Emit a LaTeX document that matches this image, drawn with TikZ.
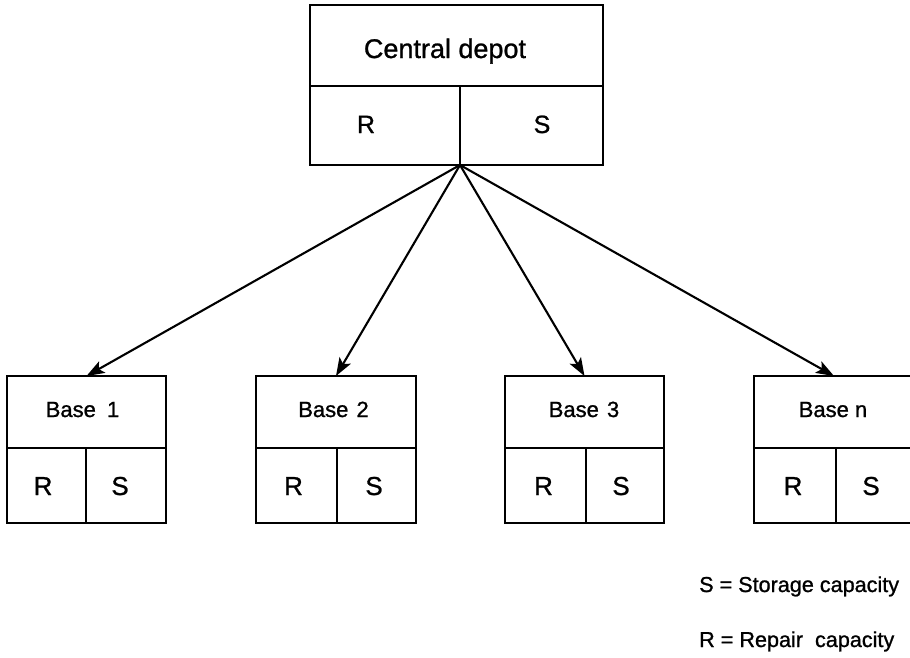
\documentclass[tikz,border=0pt]{standalone}
\usepackage{fontspec}
\setmainfont{Liberation Sans}
\newfontfamily\scanfont{Liberation Sans}[FakeBold=1.0]
\usetikzlibrary{arrows.meta}
\begin{document}
\begin{tikzpicture}[x=1pt,y=-1pt,
  cell/.style={draw, line width=2.2pt, rectangle, inner sep=0pt, outer sep=0pt, anchor=north west},
  lbl/.style={inner sep=0pt, anchor=base},
  bigtxt/.style={lbl, font=\scanfont\fontsize{27pt}{30pt}\selectfont},
  captxt/.style={lbl, font=\scanfont\fontsize{25pt}{28pt}\selectfont},
  basetxt/.style={lbl, font=\scanfont\fontsize{22pt}{26pt}\selectfont},
  celltxt/.style={lbl, font=\scanfont\fontsize{26pt}{29pt}\selectfont},
  keytxt/.style={inner sep=0pt, anchor=base west, font=\scanfont\fontsize{21.6pt}{26pt}\selectfont},
  feed/.style={line width=2.1pt, -{Stealth[length=18pt,width=13pt,inset=4pt]}}]
\useasboundingbox (0,0) rectangle (910,657);

% central depot
\node[cell, minimum width=293pt, minimum height=81pt] (cd) at (310,5) {};
\node[cell, minimum width=150pt, minimum height=79pt] (cdr) at (310,86) {};
\node[cell, minimum width=143pt, minimum height=79pt] (cds) at (460,86) {};
\node[bigtxt] (cdt) at (445,58) {Central depot};
\node[captxt] (cdrt) at (366,133) {R};
\node[captxt] (cdst) at (542,133) {S};

% base 1
\node[cell, minimum width=159pt, minimum height=72pt] (b1) at (7,376) {};
\node[cell, minimum width=79pt, minimum height=75pt] (b1r) at (7,448) {};
\node[cell, minimum width=80pt, minimum height=75pt] (b1s) at (86,448) {};
\node[basetxt] (b1t) at (82.5,417) {Base\hspace{5pt} 1};
\node[celltxt] (b1rt) at (43,495) {R};
\node[celltxt] (b1st) at (120,495) {S};

% base 2
\node[cell, minimum width=160pt, minimum height=72pt] (b2) at (256,376) {};
\node[cell, minimum width=81pt, minimum height=75pt] (b2r) at (256,448) {};
\node[cell, minimum width=79pt, minimum height=75pt] (b2s) at (337,448) {};
\node[basetxt] (b2t) at (333.5,417) {Base\hspace{2pt} 2};
\node[celltxt] (b2rt) at (293.5,495) {R};
\node[celltxt] (b2st) at (374,495) {S};

% base 3
\node[cell, minimum width=159pt, minimum height=72pt] (b3) at (505,376) {};
\node[cell, minimum width=81pt, minimum height=75pt] (b3r) at (505,448) {};
\node[cell, minimum width=78pt, minimum height=75pt] (b3s) at (586,448) {};
\node[basetxt] (b3t) at (584,417) {Base\hspace{2pt} 3};
\node[celltxt] (b3rt) at (543.5,495) {R};
\node[celltxt] (b3st) at (621,495) {S};

% base n
\node[cell, minimum width=160pt, minimum height=72pt] (bn) at (754,376) {};
\node[cell, minimum width=82pt, minimum height=75pt] (bnr) at (754,448) {};
\node[cell, minimum width=78pt, minimum height=75pt] (bns) at (836,448) {};
\node[basetxt] (bnt) at (833,417) {Base n};
\node[celltxt] (bnrt) at (793,495) {R};
\node[celltxt] (bnst) at (871,495) {S};

% supply links
\draw[feed] (cdr.south east) -- (b1.north);
\draw[feed] (cdr.south east) -- (b2.north);
\draw[feed] (cdr.south east) -- (b3.north);
\draw[feed] (cdr.south east) -- (bn.north);

% key
\node[keytxt] (keys) at (699,592) {S = Storage capacity};
\node[keytxt] (keyr) at (699,647) {R = Repair\ \ capacity};
\end{tikzpicture}
\end{document}
